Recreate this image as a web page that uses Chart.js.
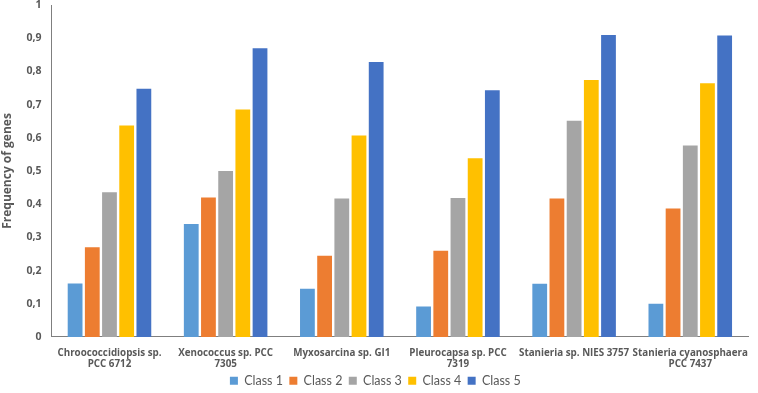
<!DOCTYPE html>
<html>
<head>
<meta charset="utf-8">
<script src="https://cdn.jsdelivr.net/npm/chart.js@4"></script>
<style>
  html, body { margin: 0; padding: 0; background: #fff; }
  #wrap { width: 758px; height: 393px; }
</style>
</head>
<body>
<div id="wrap"><canvas id="chart" width="758" height="393"></canvas></div>
<script>
// Categories (x axis, multi-line labels)
const species = [
  ["Chroococcidiopsis sp.", "PCC 6712"],
  ["Xenococcus sp. PCC", "7305"],
  ["Myxosarcina sp. GI1"],
  ["Pleurocapsa sp. PCC", "7319"],
  ["Stanieria sp. NIES 3757"],
  ["Stanieria cyanosphaera", "PCC 7437"]
];

// Series values
const class1 = [0.161, 0.34, 0.145, 0.092, 0.16, 0.1];
const class2 = [0.27, 0.42, 0.245, 0.26, 0.417, 0.387];
const class3 = [0.436, 0.5, 0.417, 0.419, 0.651, 0.577];
const class4 = [0.637, 0.685, 0.607, 0.538, 0.774, 0.764];
const class5 = [0.748, 0.87, 0.828, 0.743, 0.91, 0.908];

const seriesNames = ["Class 1", "Class 2", "Class 3", "Class 4", "Class 5"];
const seriesColors = ["#5B9BD5", "#ED7D31", "#A5A5A5", "#FFC000", "#4472C4"];

const textGray = "#595959";

const ctx = document.getElementById("chart").getContext("2d");
new Chart(ctx, {
  type: "bar",
  data: {
    labels: species,
    datasets: [class1, class2, class3, class4, class5].map((vals, i) => ({
      label: seriesNames[i],
      data: vals,
      backgroundColor: seriesColors[i],
      borderWidth: 0,
      categoryPercentage: 0.74,
      barPercentage: 0.86,
    })),
  },
  options: {
    responsive: false,
    animation: false,
    layout: { padding: { top: 5, right: 1, left: 0, bottom: -4 } },
    plugins: {
      legend: {
        position: "bottom",
        labels: {
          boxWidth: 8,
          boxHeight: 8,
          padding: 0,
          color: textGray,
          font: { family: "Lato", size: 12.5 },
          // spacing between legend items
          generateLabels: (chart) =>
            Chart.defaults.plugins.legend.labels.generateLabels(chart).map((l) => ({
              ...l,
              text: l.text + "  ",
            })),
        },
      },
      tooltip: { enabled: false },
    },
    scales: {
      x: {
        afterFit: (scale) => {
          scale.height -= 6;
        },
        grid: { display: false, drawTicks: false },
        border: { color: "#7f7f7f", width: 1 },
        ticks: {
          color: textGray,
          maxRotation: 0,
          autoSkip: false,
          padding: 10,
          font: { family: "Open Sans", size: 9.8, weight: "bold", lineHeight: 1.2 },
        },
      },
      y: {
        min: 0,
        max: 1,
        afterFit: (scale) => {
          scale.paddingTop = 0;
          scale.paddingBottom = 0;
        },
        grid: { display: false, drawTicks: false },
        border: { color: "#7f7f7f", width: 1 },
        ticks: {
          stepSize: 0.1,
          color: textGray,
          padding: 10,
          font: { family: "Open Sans", size: 10.5, weight: "bold" },
          callback: (v) => (v === 0 || v === 1 ? String(v) : v.toFixed(1).replace(".", ",")),
        },
        title: {
          display: true,
          text: "Frequency of genes",
          color: textGray,
          padding: { top: 0, bottom: 2 },
          font: { family: "Open Sans", size: 12, weight: "bold" },
        },
      },
    },
  },
});
</script>
</body>
</html>
